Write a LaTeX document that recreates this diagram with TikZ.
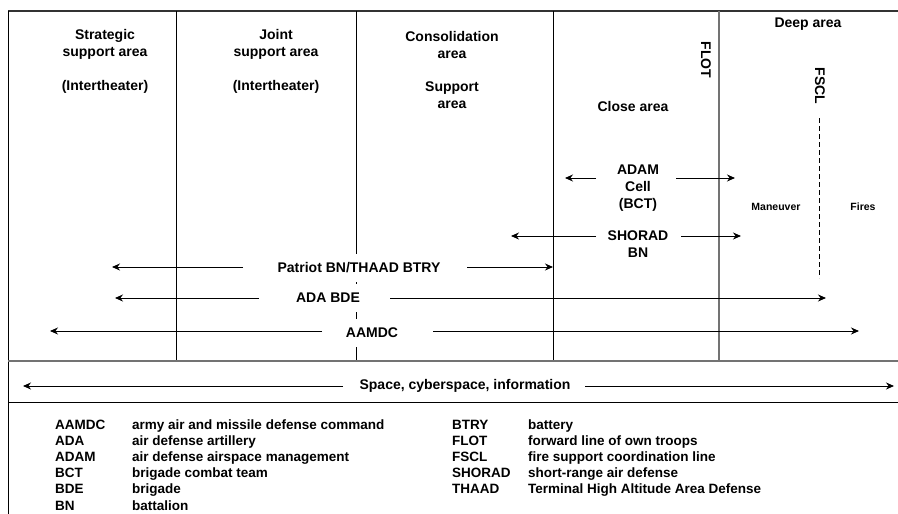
\documentclass[tikz,border=0pt]{standalone}
\usepackage{fontspec}
\setmainfont{Liberation Sans}
\usetikzlibrary{arrows.meta}

\tikzset{
  lbl/.style={font=\bfseries\fontsize{14}{17}\selectfont, align=center, inner sep=1pt},
  cut/.style={lbl, fill=white, minimum height=28pt},
  small/.style={font=\bfseries\fontsize{10.5}{12}\selectfont, inner sep=1pt},
  key/.style={font=\bfseries\fontsize{13.5}{16}\selectfont, anchor=base west, inner sep=0pt},
  arr/.style={-{Stealth[length=8pt,width=7pt]}, line width=0.9pt},
  frame/.style={line width=1pt},
  gline/.style={line width=1.2pt, black!55},
}

\begin{document}
\begin{tikzpicture}[x=1pt,y=-1pt]
\useasboundingbox (0,0) rectangle (898,514);

% frame and area borders
\draw[line width=1.6pt, black!80] (8,11) -- (898,11);
\draw[frame] (8,11) -- (8,514);
\draw[frame] (176,11) -- (176,361);
\draw[frame] (356,11) -- (356,361);
\draw[frame] (553,11) -- (553,361);
\draw[gline] (719,11) -- (719,361);
\draw[gline] (8,361) -- (898,361);
\draw[frame] (8,402) -- (898,402);

% area names
\node[lbl] (strat) at (105,44.5) {Strategic\\support area};
\node[lbl] (stratI) at (105,87) {(Intertheater)};
\node[lbl] (joint) at (276,44.5) {Joint\\support area};
\node[lbl] (jointI) at (276,87) {(Intertheater)};
\node[lbl] (consol) at (452,44.5) {Consolidation\\area};
\node[lbl] (supp) at (452,95.5) {Support\\area};
\node[lbl] (close) at (633,106) {Close area};
\node[lbl, rotate=-90] (flot) at (706,60) {FLOT};
\node[lbl] (deep) at (808,24) {Deep area};
\node[lbl, rotate=-90] (fscl) at (820,86) {FSCL};
\node[small] (man) at (776,207) {Maneuver};
\node[small] (fires) at (863,207) {Fires};

% FSCL line
\coordinate (fsclTop) at (819,118);
\coordinate (fsclBot) at (819,278);
\draw[line width=1pt, dash pattern=on 5pt off 3pt] (fsclTop) -- (fsclBot);

% units
\node[lbl] (adam) at (638,188) {ADAM\\Cell\\(BCT)};
\node[lbl] (shorad) at (638,244.5) {SHORAD\\BN};
\node[cut] (patriot) at (359,268) {Patriot BN/THAAD BTRY};
\node[cut] (adabde) at (328,298) {ADA BDE};
\node[cut] (aamdc) at (372,333) {AAMDC};
\node[lbl] (space) at (465,386) {Space, cyberspace, information};

% reach of each unit
\foreach \nm/\xs/\xe/\y in {adamL/596/565/178, adamR/676/735/178,
    shoradL/596/511/236, shoradR/681/741/236,
    patriotL/243/112/267, patriotR/467/553/267,
    adabdeL/259/115/298, adabdeR/390/826/298,
    aamdcL/322/50/331, aamdcR/433/859/331,
    spaceL/343/23/386, spaceR/585/894/386}
{
  \coordinate (\nm-s) at (\xs,\y);
  \coordinate (\nm-e) at (\xe,\y);
  \draw[arr] (\nm-s) -- (\nm-e);
}

% legend
\foreach [count=\i] \ab/\df in {AAMDC/army air and missile defense command,
    ADA/air defense artillery, ADAM/air defense airspace management,
    BCT/brigade combat team, BDE/brigade, BN/battalion}
{
  \node[key] (abL\i) at (55,{429+16.2*(\i-1)}) {\ab};
  \node[key] (dfL\i) at (132,{429+16.2*(\i-1)}) {\df};
}
\foreach [count=\i] \ab/\df in {BTRY/battery, FLOT/forward line of own troops,
    FSCL/fire support coordination line, SHORAD/short-range air defense,
    THAAD/Terminal High Altitude Area Defense}
{
  \node[key] (abR\i) at (452,{429+16.2*(\i-1)}) {\ab};
  \node[key] (dfR\i) at (528,{429+16.2*(\i-1)}) {\df};
}
\end{tikzpicture}
\end{document}
